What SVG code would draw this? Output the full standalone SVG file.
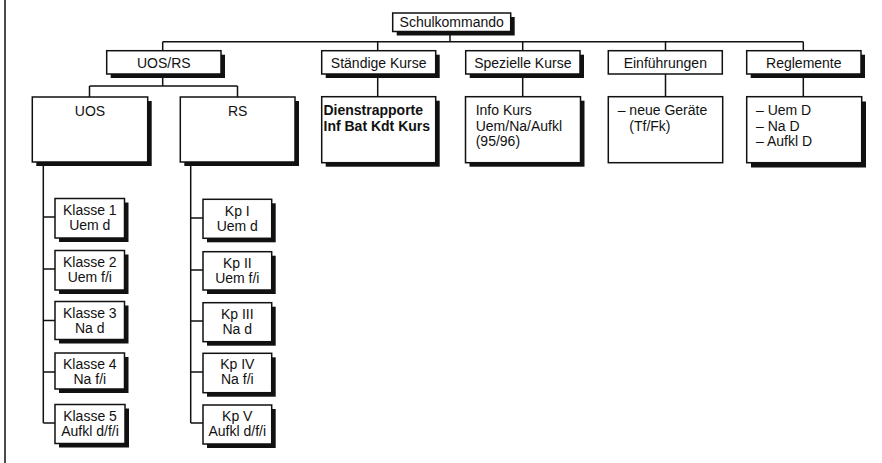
<svg xmlns="http://www.w3.org/2000/svg" width="882" height="463" viewBox="0 0 882 463">
<style>
.bg{fill:#ffffff}
.sh{fill:#111111}
.bx{fill:#ffffff;stroke:#111111;stroke-width:1.5}
.ln{fill:none;stroke:#111111;stroke-width:1.5}
text{font-family:"Liberation Sans",Arial,sans-serif;font-size:14px;fill:#111111}
.c{text-anchor:middle}
.b{font-weight:bold}
</style>
<rect class="bg" x="0" y="0" width="882" height="463"/>
<line class="ln" x1="5" y1="0" x2="5" y2="463"/>
<g id="connectors">
<path class="ln" d="M450,31.5 V41.7 M162.7,41.7 H803.3 M162.7,41.7 V50.7 M377.7,41.7 V50.7 M522.7,41.7 V50.7 M665.5,41.7 V50.7 M803.3,41.7 V50.7"/>
<path class="ln" d="M162.7,74 V86 M89.5,86 H237.5 M89.5,86 V97 M237.5,86 V97"/>
<path class="ln" d="M377.7,74 V97 M522.7,74 V97 M665.5,74 V97 M803.3,74 V97"/>
<path class="ln" d="M43.3,162 V423 M43.3,217 H55 M43.3,269 H55 M43.3,320.5 H55 M43.3,372 H55 M43.3,423 H55"/>
<path class="ln" d="M190.7,162 V423 M190.7,218 H203 M190.7,270 H203 M190.7,321 H203 M190.7,372 H203 M190.7,423 H203"/>
</g>
<g id="schulkommando">
<rect class="sh" x="396.7" y="17" width="118" height="18.5"/>
<rect class="bx" x="392.7" y="13" width="118" height="18.5"/>
<text class="c" x="451.7" y="26.5">Schulkommando</text>
</g>
<g id="uosrs">
<rect class="sh" x="110.7" y="54.7" width="114.3" height="23.3"/>
<rect class="bx" x="106.7" y="50.7" width="114.3" height="23.3"/>
<text class="c" x="163.8" y="68">UOS/RS</text>
</g>
<g id="staendige">
<rect class="sh" x="325.7" y="54.7" width="114" height="23.3"/>
<rect class="bx" x="321.7" y="50.7" width="114" height="23.3"/>
<text class="c" x="378.7" y="68">Ständige Kurse</text>
</g>
<g id="spezielle">
<rect class="sh" x="469.7" y="54.7" width="114.3" height="23.3"/>
<rect class="bx" x="465.7" y="50.7" width="114.3" height="23.3"/>
<text class="c" x="522.8" y="68">Spezielle Kurse</text>
</g>
<g id="einfuehrungen">
<rect class="bx" x="608.3" y="50.7" width="114" height="23.3"/>
<text class="c" x="665.3" y="68">Einführungen</text>
</g>
<g id="reglemente">
<rect class="sh" x="750.7" y="54.7" width="114.3" height="23.3"/>
<rect class="bx" x="746.7" y="50.7" width="114.3" height="23.3"/>
<text class="c" x="803.8" y="68">Reglemente</text>
</g>
<g id="uos">
<rect class="sh" x="36.3" y="101" width="115.4" height="65"/>
<rect class="bx" x="32.3" y="97" width="115.4" height="65"/>
<text class="c" x="90" y="115.7">UOS</text>
</g>
<g id="rs">
<rect class="sh" x="184.3" y="101" width="114.7" height="65"/>
<rect class="bx" x="180.3" y="97" width="114.7" height="65"/>
<text class="c" x="237.7" y="115.7">RS</text>
</g>
<g id="dienstrapporte">
<rect class="sh" x="325.7" y="100.7" width="114" height="66"/>
<rect class="bx" x="321.7" y="96.7" width="114" height="66"/>
<text class="b" x="323.5" y="115">Dienstrapporte</text>
<text class="b" x="323.5" y="130.7">Inf Bat Kdt Kurs</text>
</g>
<g id="infokurs">
<rect class="sh" x="469.5" y="100.7" width="115" height="66"/>
<rect class="bx" x="465.5" y="96.7" width="115" height="66"/>
<text x="475.7" y="115">Info Kurs</text>
<text x="475.7" y="130.7">Uem/Na/Aufkl</text>
<text x="475.7" y="146.3">(95/96)</text>
</g>
<g id="neuegeraete">
<rect class="bx" x="608.3" y="96.7" width="114.4" height="66"/>
<text x="617.7" y="115">– neue Geräte</text>
<text x="629.3" y="130.7">(Tf/Fk)</text>
</g>
<g id="reglemente-list">
<rect class="sh" x="751" y="101.5" width="115" height="66"/>
<rect class="bx" x="746.7" y="96.7" width="115" height="66"/>
<text x="756" y="115">– Uem D</text>
<text x="756" y="130.7">– Na D</text>
<text x="756" y="146.3">– Aufkl D</text>
</g>
<g id="klasse1">
<rect class="sh" x="59" y="202.5" width="69.5" height="39.5"/>
<rect class="bx" x="55" y="198.5" width="69.5" height="39.5"/>
<text class="c" x="89.8" y="215">Klasse 1</text>
<text class="c" x="89.8" y="230">Uem d</text>
</g>
<g id="klasse2">
<rect class="sh" x="59" y="254.5" width="69.5" height="39.5"/>
<rect class="bx" x="55" y="250.5" width="69.5" height="39.5"/>
<text class="c" x="89.8" y="267">Klasse 2</text>
<text class="c" x="89.8" y="282">Uem f/i</text>
</g>
<g id="klasse3">
<rect class="sh" x="59" y="305.5" width="69.5" height="38"/>
<rect class="bx" x="55" y="301.5" width="69.5" height="38"/>
<text class="c" x="89.8" y="317.5">Klasse 3</text>
<text class="c" x="89.8" y="332.5">Na d</text>
</g>
<g id="klasse4">
<rect class="sh" x="59" y="357" width="69.5" height="36"/>
<rect class="bx" x="55" y="353" width="69.5" height="36"/>
<text class="c" x="89.8" y="368.5">Klasse 4</text>
<text class="c" x="89.8" y="383.5">Na f/i</text>
</g>
<g id="klasse5">
<rect class="sh" x="59" y="408.5" width="70" height="39"/>
<rect class="bx" x="55" y="404.5" width="70" height="39"/>
<text class="c" x="90" y="420.5">Klasse 5</text>
<text class="c" x="90" y="435.5">Aufkl d/f/i</text>
</g>
<g id="kp1">
<rect class="sh" x="207" y="203.3" width="68.7" height="39"/>
<rect class="bx" x="203" y="199.3" width="68.7" height="39"/>
<text class="c" x="237.3" y="215.5">Kp I</text>
<text class="c" x="237.3" y="230.5">Uem d</text>
</g>
<g id="kp2">
<rect class="sh" x="207" y="255.7" width="68.7" height="38.3"/>
<rect class="bx" x="203" y="251.7" width="68.7" height="38.3"/>
<text class="c" x="237.3" y="267.5">Kp II</text>
<text class="c" x="237.3" y="282.5">Uem f/i</text>
</g>
<g id="kp3">
<rect class="sh" x="207" y="306.7" width="68.7" height="39"/>
<rect class="bx" x="203" y="302.7" width="68.7" height="39"/>
<text class="c" x="237.3" y="318.5">Kp III</text>
<text class="c" x="237.3" y="333.5">Na d</text>
</g>
<g id="kp4">
<rect class="sh" x="207" y="357.3" width="68.7" height="39.4"/>
<rect class="bx" x="203" y="353.3" width="68.7" height="39.4"/>
<text class="c" x="237.3" y="369">Kp IV</text>
<text class="c" x="237.3" y="384">Na f/i</text>
</g>
<g id="kp5">
<rect class="sh" x="207" y="409" width="68.7" height="39"/>
<rect class="bx" x="203" y="405" width="68.7" height="39"/>
<text class="c" x="237.3" y="421">Kp V</text>
<text class="c" x="237.3" y="436">Aufkl d/f/i</text>
</g>
</svg>
